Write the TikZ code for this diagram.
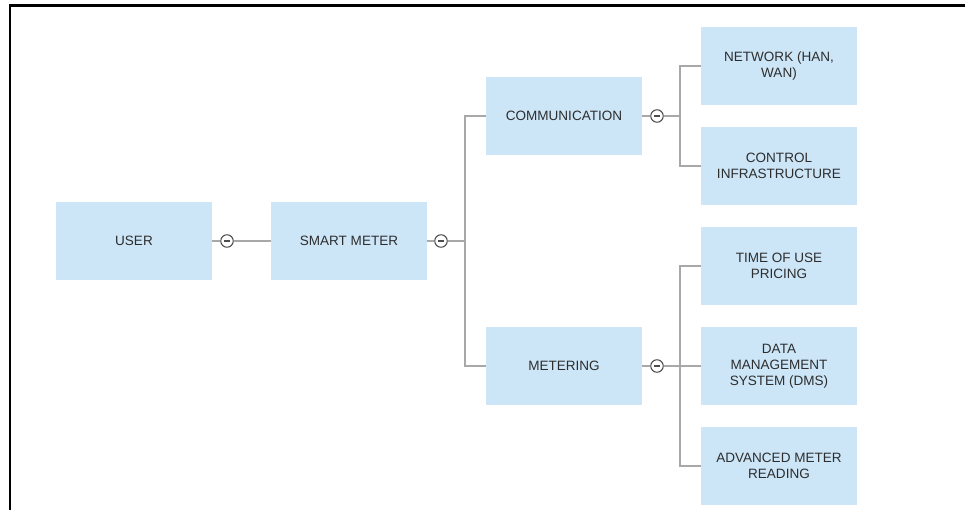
\documentclass[tikz,border=0pt]{standalone}
\usepackage{fontspec}
\setmainfont{Liberation Sans}
\usepackage{tikz}
\usetikzlibrary{positioning,calc}
\definecolor{boxblue}{RGB}{204,230,248}
\definecolor{linkgray}{RGB}{168,168,168}
\definecolor{textgray}{RGB}{45,45,45}

\begin{document}
\begin{tikzpicture}[
    x=0.02cm, y=-0.02cm,
    font=\fontsize{7.7pt}{9.2pt}\selectfont,
    topic/.style={fill=boxblue, minimum width=3.12cm, minimum height=1.56cm,
                  inner sep=2pt, align=center, text=textgray},
    link/.style={draw=linkgray, line width=1.2pt},
    toggle/.style={circle, draw=textgray!85, fill=white, line width=0.6pt,
                   minimum size=0.25cm, inner sep=0pt,
                   path picture={\draw[textgray!85, line width=0.6pt]
                     ($(path picture bounding box.center)+(-0.06cm,0cm)$) --
                     ($(path picture bounding box.center)+(0.06cm,0cm)$);}},
]
\useasboundingbox (0,0) rectangle (965,510);
\draw[line width=1.6pt] (10,510) -- (10,5.5) -- (965,5.5);

%% -- root level ------------------------------------------------
\node[topic] (user)  at (134,241) {USER};
\node[topic] (meter) at (349,241) {SMART METER};
\node[toggle] (tuser)  at (227,241) {};
\node[toggle] (tmeter) at (441,241) {};

\draw[link] (user.east) -- (tuser);
\draw[link] (tuser) -- (meter.west);
\draw[link] (meter.east) -- (tmeter);

%% -- second level ----------------------------------------------
\node[topic] (comm)  at (564,116) {COMMUNICATION};
\node[topic] (metering) at (564,366) {METERING};
\node[toggle] (tcomm)  at (657,116) {};
\node[toggle] (tmetering) at (657,366) {};

\coordinate (trunk1) at (465,241);
\draw[link] (tmeter) -- (trunk1);
\draw[link] (trunk1) |- (comm.west);
\draw[link] (trunk1) |- (metering.west);
\draw[link] (comm.east) -- (tcomm);
\draw[link] (metering.east) -- (tmetering);

%% -- third level -----------------------------------------------
\node[topic] (net)   at (779,66)  {NETWORK (HAN,\\WAN)};
\node[topic] (ctrl)  at (779,166) {CONTROL\\INFRASTRUCTURE};
\node[topic] (tou)   at (779,266) {TIME OF USE\\PRICING};
\node[topic] (dms)   at (779,366) {DATA\\MANAGEMENT\\SYSTEM (DMS)};
\node[topic] (amr)   at (779,466) {ADVANCED METER\\READING};

\coordinate (trunk2) at (680,116);
\coordinate (trunk3) at (680,366);
\draw[link] (tcomm) -- (trunk2);
\draw[link] (trunk2) |- (net.west);
\draw[link] (trunk2) |- (ctrl.west);
\draw[link] (tmetering) -- (dms.west);
\draw[link] (trunk3) |- (tou.west);
\draw[link] (trunk3) |- (amr.west);

\end{tikzpicture}
\end{document}
